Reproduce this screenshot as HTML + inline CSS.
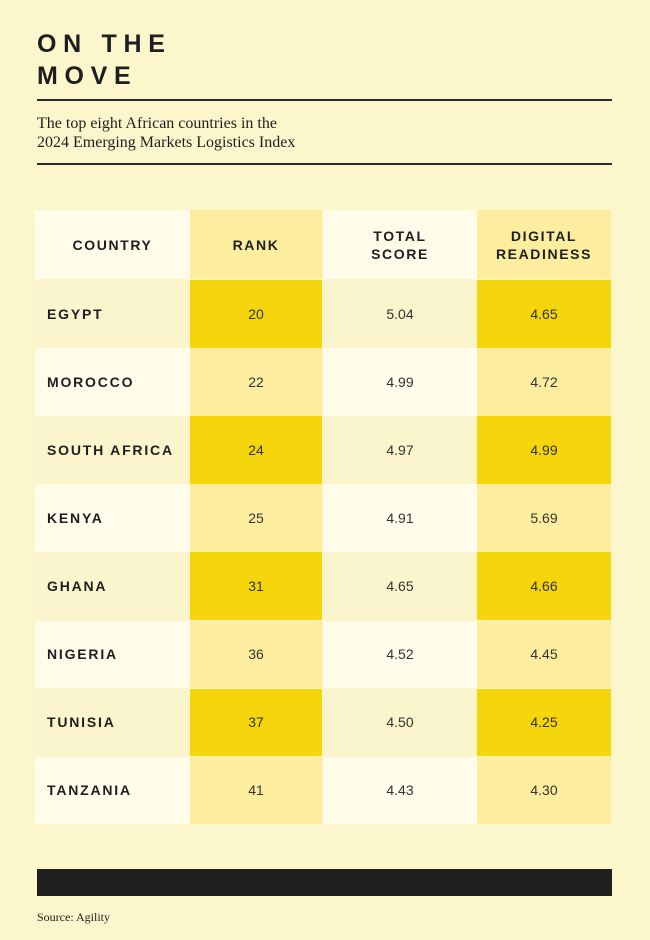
<!DOCTYPE html>
<html><head><style>
body{margin:0;width:650px;height:940px;background:#fcf6cc;position:relative;overflow:hidden;font-family:"Liberation Sans",sans-serif;color:#1e1e1e}
.t{position:absolute;left:37px;font-weight:bold;font-size:25px;letter-spacing:6.7px;line-height:32px;top:28px}
.rule{position:absolute;left:37px;width:575px;height:1.5px;background:#2a2a2a}
.sub{position:absolute;left:37px;top:114px;font-family:"Liberation Serif",serif;font-size:16px;line-height:19px}
.c{position:absolute;display:flex;align-items:center;justify-content:center;font-size:14px;color:#333}
.h{font-weight:bold;letter-spacing:1.6px;font-size:14px;text-align:center;line-height:18px;color:#1e1e1e}
.n{justify-content:flex-start;padding-left:12px;box-sizing:border-box;font-weight:bold;letter-spacing:1.8px;color:#1e1e1e}
</style></head><body>
<div class="t">ON THE<br>MOVE</div>
<div class="rule" style="top:99px"></div>
<div class="sub">The top eight African countries in the<br>2024 Emerging Markets Logistics Index</div>
<div class="rule" style="top:163px"></div>
<div id="tb"></div>
<div style="position:absolute;left:37px;top:869px;width:575px;height:27px;background:#1e1e1e"></div>
<div style="position:absolute;left:37px;top:910px;font-family:'Liberation Serif',serif;font-size:12px">Source: Agility</div>
<script>
const cols=[[35,155],[190,132],[323,154],[477,134]];
const rows=[["EGYPT",20,"5.04","4.65"],["MOROCCO",22,"4.99","4.72"],["SOUTH AFRICA",24,"4.97","4.99"],["KENYA",25,"4.91","5.69"],["GHANA",31,"4.65","4.66"],["NIGERIA",36,"4.52","4.45"],["TUNISIA",37,"4.50","4.25"],["TANZANIA",41,"4.43","4.30"]];
let h='';
const L='#fffce9',M='#fcee9e',Y='#f5d60c',B='#fbf5cd';
const hd=["COUNTRY","RANK","TOTAL<br>SCORE","DIGITAL<br>READINESS"],hc=[L,M,L,M];
hd.forEach((t,i)=>{h+=`<div class="c h" style="left:${cols[i][0]}px;width:${cols[i][1]}px;top:210px;height:69px;background:${hc[i]}">${t}</div>`});
rows.forEach((r,j)=>{const top=280+j*68.1,odd=j%2==0;const bg=odd?[B,Y,B,Y]:[L,M,L,M];
r.forEach((v,i)=>{h+=`<div class="c${i==0?' n':''}" style="left:${cols[i][0]}px;width:${cols[i][1]}px;top:${top}px;height:67.5px;background:${bg[i]}">${v}</div>`})});
document.getElementById('tb').innerHTML=h;
</script>
</body></html>
